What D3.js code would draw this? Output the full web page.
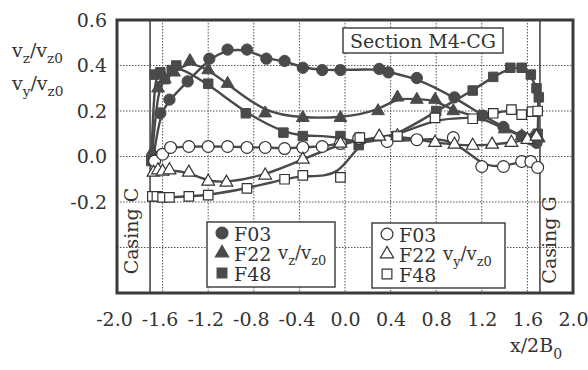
<!DOCTYPE html>
<html>
<head>
<meta charset="utf-8">
<script src="https://d3js.org/d3.v7.min.js"></script>
<style>
  body { margin: 0; background: #fff; }
  svg text { font-family: "DejaVu Serif", serif; fill: #333; }
  .grid line { stroke: #555; stroke-width: 1; stroke-dasharray: 1.5,1.5; }
</style>
</head>
<body>
<script>
// tick labels
var xTicks = [-2.0, -1.6, -1.2, -0.8, -0.4, 0.0, 0.4, 0.8, 1.2, 1.6, 2.0];
var yTicks = [0.6, 0.4, 0.2, 0.0, -0.2];
var yGrid = [0.4, 0.2, 0.0, -0.2, -0.4];
var casingX = [-1.71, 1.71];

// v_z / v_z0  (filled markers)
var f03zX = [-1.68, -1.62, -1.54, -1.38, -1.19, -1.03, -0.86, -0.69, -0.53, -0.37, -0.20, -0.04, 0.30, 0.38, 0.63, 0.96, 1.21, 1.39, 1.55, 1.63, 1.68];
var f03zV = [0.00, 0.19, 0.25, 0.33, 0.43, 0.47, 0.47, 0.43, 0.42, 0.39, 0.38, 0.38, 0.385, 0.37, 0.345, 0.26, 0.18, 0.13, 0.09, 0.075, 0.06];

var f22zX = [-1.69, -1.64, -1.58, -1.50, -1.36, -1.20, -1.03, -0.70, -0.37, -0.04, 0.29, 0.46, 0.63, 0.79, 0.95, 1.18, 1.40, 1.55, 1.64, 1.70];
var f22zV = [0.02, 0.30, 0.34, 0.37, 0.42, 0.38, 0.32, 0.19, 0.17, 0.17, 0.20, 0.26, 0.25, 0.25, 0.20, 0.175, 0.12, 0.09, 0.08, 0.08];

var f48zX = [-1.70, -1.67, -1.62, -1.58, -1.52, -1.48, -1.20, -0.87, -0.54, -0.37, -0.04, 0.12, 0.45, 0.80, 1.12, 1.30, 1.45, 1.55, 1.63, 1.68, 1.70, 1.69];
var f48zV = [-0.02, 0.36, 0.37, 0.34, 0.38, 0.40, 0.32, 0.19, 0.105, 0.09, 0.09, 0.05, 0.09, 0.20, 0.29, 0.35, 0.39, 0.39, 0.36, 0.30, 0.26, 0.10];

// v_y / v_z0  (open markers)
var f03yX = [-1.67, -1.60, -1.53, -1.37, -1.20, -1.03, -0.86, -0.70, -0.53, -0.37, -0.20, -0.04, 0.12, 0.37, 0.63, 0.95, 1.20, 1.39, 1.55, 1.63, 1.69];
var f03yV = [-0.02, 0.01, 0.04, 0.044, 0.044, 0.044, 0.04, 0.04, 0.035, 0.04, 0.044, 0.057, 0.08, 0.066, 0.074, 0.083, -0.044, -0.044, -0.022, -0.022, -0.048];

var f22yX = [-1.68, -1.64, -1.60, -1.54, -1.37, -1.20, -1.04, -0.70, -0.37, -0.04, 0.30, 0.46, 0.79, 0.96, 1.12, 1.29, 1.46, 1.60, 1.68];
var f22yV = [-0.07, -0.06, -0.066, -0.06, -0.07, -0.11, -0.114, -0.083, -0.013, 0.057, 0.088, 0.09, 0.061, 0.053, 0.048, 0.053, 0.061, 0.074, 0.088];

var f48yX = [-1.69, -1.65, -1.60, -1.54, -1.37, -1.20, -0.86, -0.53, -0.37, -0.04, 0.13, 0.46, 0.79, 1.12, 1.30, 1.46, 1.55, 1.64, 1.69];
var f48yV = [-0.175, -0.175, -0.18, -0.18, -0.175, -0.17, -0.14, -0.10, -0.083, -0.092, 0.083, 0.088, 0.17, 0.166, 0.19, 0.206, 0.184, 0.197, 0.20];

var ink = "#4a4a4a";

var series = [
  { xs: f03zX, vs: f03zV, shape: d3.symbolCircle, size: 100, open: false },
  { xs: f22zX, vs: f22zV, shape: d3.symbolTriangle, size: 70, open: false },
  { xs: f48zX, vs: f48zV, shape: d3.symbolSquare, size: 90, open: false },
  { xs: f03yX, vs: f03yV, shape: d3.symbolCircle, size: 110, open: true },
  { xs: f22yX, vs: f22yV, shape: d3.symbolTriangle, size: 70, open: true },
  { xs: f48yX, vs: f48yV, shape: d3.symbolSquare, size: 90, open: true }
];

var svg = d3.select("body").append("svg")
  .attr("width", 588).attr("height", 370);

var x = d3.scaleLinear().domain([-2, 2]).range([117, 573]);
var y = d3.scaleLinear().domain([-0.6, 0.6]).range([293, 20]);

// grid
var grid = svg.append("g").attr("class", "grid");
grid.selectAll(".vx").data(xTicks.slice(1, -1)).enter().append("line")
  .attr("x1", d => x(d)).attr("x2", d => x(d))
  .attr("y1", y(0.6)).attr("y2", y(-0.6));
grid.selectAll(".hy").data(yGrid).enter().append("line")
  .attr("x1", x(-2)).attr("x2", x(2))
  .attr("y1", d => y(d)).attr("y2", d => y(d));

// casing walls
svg.selectAll(".casing").data(casingX).enter().append("line")
  .attr("x1", d => x(d)).attr("x2", d => x(d))
  .attr("y1", y(0.6)).attr("y2", y(-0.6))
  .attr("stroke", ink).attr("stroke-width", 1.6);

// axes (labels only)
var xAxis = svg.append("g").attr("transform", "translate(0," + y(-0.6) + ")")
  .call(d3.axisBottom(x).tickValues(xTicks).tickSize(0).tickPadding(20)
    .tickFormat(d => d.toFixed(1)));
xAxis.select(".domain").remove();
xAxis.selectAll("text").attr("font-size", 19).attr("fill", "#333")
  .attr("font-family", "DejaVu Serif")
  .attr("dx", d => d < 0 ? -3 : 0);

var yAxis = svg.append("g").attr("transform", "translate(" + x(-2) + ",0)")
  .call(d3.axisLeft(y).tickValues(yTicks).tickSize(0).tickPadding(10)
    .tickFormat(d => d.toFixed(1)));
yAxis.select(".domain").remove();
yAxis.selectAll("text").attr("font-size", 19).attr("fill", "#333")
  .attr("font-family", "DejaVu Serif");

// curves and markers
var line = d3.line()
  .x(d => x(d[0])).y(d => y(d[1]))
  .curve(d3.curveBasis);

series.forEach(function (s) {
  var pts = s.xs.map((v, i) => [v, s.vs[i]]);
  svg.append("path").datum(pts)
    .attr("d", line)
    .attr("fill", "none").attr("stroke", ink).attr("stroke-width", 2.4);
});
series.forEach(function (s) {
  var pts = s.xs.map((v, i) => [v, s.vs[i]]);
  svg.append("g").selectAll("path").data(pts).enter().append("path")
    .attr("transform", d => "translate(" + x(d[0]) + "," + y(d[1]) + ")")
    .attr("d", d3.symbol().type(s.shape).size(s.size))
    .attr("fill", s.open ? "#fff" : ink)
    .attr("stroke", s.open ? "#333" : ink)
    .attr("stroke-width", s.open ? 1.2 : 1);
});

// frame
svg.append("rect")
  .attr("x", x(-2)).attr("y", y(0.6))
  .attr("width", x(2) - x(-2)).attr("height", y(-0.6) - y(0.6))
  .attr("fill", "none").attr("stroke", "#3a3a3a").attr("stroke-width", 3);

// casing labels
svg.append("text").attr("transform", "translate(138,231) rotate(-90)")
  .attr("text-anchor", "middle").attr("font-size", 19).text("Casing C");
svg.append("text").attr("transform", "translate(556,240) rotate(-90)")
  .attr("text-anchor", "middle").attr("font-size", 19).text("Casing G");

// section box
svg.append("rect").attr("x", 343).attr("y", 28).attr("width", 160).attr("height", 25)
  .attr("fill", "#fff").attr("stroke", "#444").attr("stroke-width", 1.5);
svg.append("text").attr("x", 423).attr("y", 48).attr("text-anchor", "middle")
  .attr("font-size", 19).text("Section M4-CG");

// ratio labels with subscripts
function ratio(g, xx, yy, sub, size) {
  var t = g.append("text").attr("x", xx).attr("y", yy).attr("font-size", size);
  t.append("tspan").text("v");
  t.append("tspan").attr("font-size", size * 0.72).attr("dy", 6).text(sub);
  t.append("tspan").attr("dy", -6).text("/v");
  t.append("tspan").attr("font-size", size * 0.72).attr("dy", 6).text("z0");
  return t;
}
ratio(svg, 12, 57, "z", 19);
ratio(svg, 12, 90, "y", 19);

// x axis title
var xt = svg.append("text").attr("x", 510).attr("y", 352).attr("font-size", 19);
xt.append("tspan").text("x/2B");
xt.append("tspan").attr("font-size", 14).attr("dy", 7).text("0");

// legends
var legends = [
  { x: 207, y: 222, w: 128, h: 65, open: false, sub: "z" },
  { x: 372, y: 223, w: 133, h: 65, open: true, sub: "y" }
];
var legNames = ["F03", "F22", "F48"];
var legShapes = [d3.symbolCircle, d3.symbolTriangle, d3.symbolSquare];
var legSizes = [110, 75, 95];

legends.forEach(function (L) {
  var g = svg.append("g");
  g.append("rect").attr("x", L.x).attr("y", L.y).attr("width", L.w).attr("height", L.h)
    .attr("fill", "#fff").attr("stroke", "#444").attr("stroke-width", 1.5);
  legNames.forEach(function (n, i) {
    var cy = L.y + 11 + i * 20;
    g.append("path").attr("transform", "translate(" + (L.x + 15) + "," + cy + ")")
      .attr("d", d3.symbol().type(legShapes[i]).size(legSizes[i]))
      .attr("fill", L.open ? "#fff" : ink)
      .attr("stroke", L.open ? "#333" : ink).attr("stroke-width", 1.2);
    g.append("text").attr("x", L.x + 27).attr("y", cy + 8).attr("font-size", 19).text(n);
  });
  ratio(g, L.x + 71, L.y + 37, L.sub, 18);
});
</script>
</body>
</html>
